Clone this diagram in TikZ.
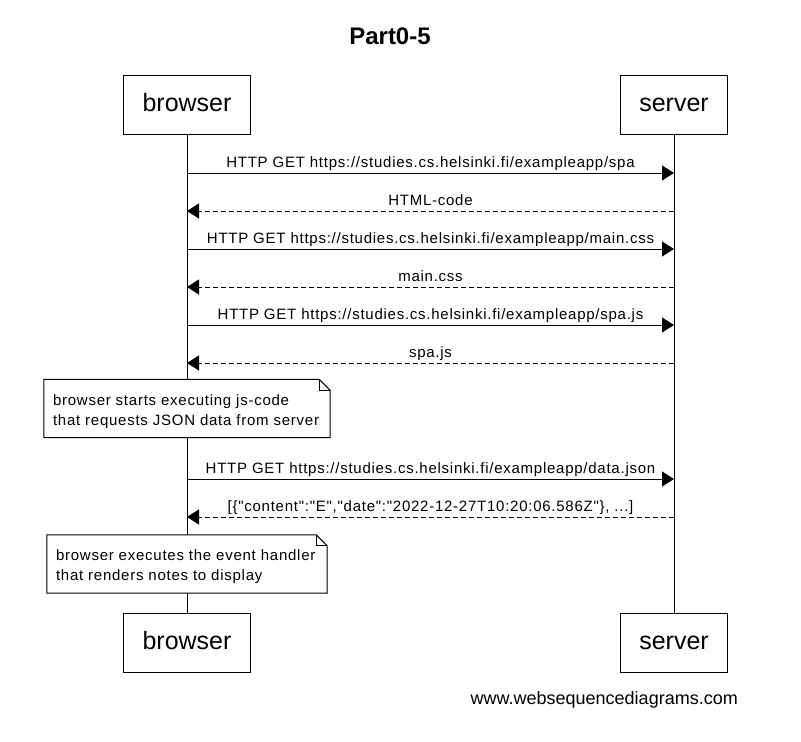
\documentclass[tikz,border=0pt]{standalone}
\usepackage{fontspec}
\setmainfont{Liberation Sans}
\newfontfamily\lblfont[LetterSpace=5]{Liberation Sans}
\usetikzlibrary{arrows.meta}
\begin{document}
\begin{tikzpicture}[x=1pt,y=-1pt,
  actorbox/.style={draw, line width=1pt, fill=white, minimum height=59pt, inner xsep=19pt, inner ysep=0pt, text height=18pt, text depth=5pt, font=\fontsize{25}{30}\selectfont},
  lifeline/.style={line width=1pt},
  reqmsg/.style={line width=1pt, -{Triangle[length=12pt,width=15pt]}},
  resmsg/.style={line width=1pt, dash pattern=on 5pt off 3pt, -{Triangle[length=12pt,width=15pt]}},
  msglbl/.style={font=\lblfont\fontsize{15}{17}\selectfont, inner sep=0pt, anchor=base, yshift=6pt},
  notebox/.style={fill=white, draw=none, inner sep=0pt, minimum height=58pt},
  noteline/.style={line width=1pt, line join=miter},
  notetxt/.style={font=\lblfont\fontsize{15}{17}\selectfont, inner sep=0pt, anchor=base west},
  titletxt/.style={font=\bfseries\fontsize{24}{28}\selectfont, inner sep=0pt, anchor=base},
  foottxt/.style={font=\fontsize{18}{20}\selectfont, inner sep=0pt, anchor=base east}
]
\useasboundingbox (0,0) rectangle (801,742);

\node[titletxt] (title) at (390,44) {Part0-5};

% actors
\node[actorbox] (bt) at (187,104.5) {browser};
\node[actorbox] (st) at (674,104.5) {server};
\node[actorbox] (bb) at (187,642.5) {browser};
\node[actorbox] (sb) at (674,642.5) {server};

% lifelines
\draw[lifeline] (bt.south) -- (bb.north);
\draw[lifeline] (st.south) -- (sb.north);

% message end points
\coordinate (b1) at (187,173); \coordinate (s1) at (674,173);
\coordinate (b2) at (187,211); \coordinate (s2) at (674,211);
\coordinate (b3) at (187,249); \coordinate (s3) at (674,249);
\coordinate (b4) at (187,287); \coordinate (s4) at (674,287);
\coordinate (b5) at (187,325); \coordinate (s5) at (674,325);
\coordinate (b6) at (187,363); \coordinate (s6) at (674,363);
\coordinate (b7) at (187,479); \coordinate (s7) at (674,479);
\coordinate (b8) at (187,517); \coordinate (s8) at (674,517);

\draw[reqmsg] (b1) -- (s1) node[msglbl, midway] {HTTP GET https://studies.cs.helsinki.fi/exampleapp/spa};
\draw[resmsg] (s2) -- (b2) node[msglbl, midway] {HTML-code};
\draw[reqmsg] (b3) -- (s3) node[msglbl, midway] {HTTP GET https://studies.cs.helsinki.fi/exampleapp/main.css};
\draw[resmsg] (s4) -- (b4) node[msglbl, midway] {main.css};
\draw[reqmsg] (b5) -- (s5) node[msglbl, midway] {HTTP GET https://studies.cs.helsinki.fi/exampleapp/spa.js};
\draw[resmsg] (s6) -- (b6) node[msglbl, midway] {spa.js};
\draw[reqmsg] (b7) -- (s7) node[msglbl, midway] {HTTP GET https://studies.cs.helsinki.fi/exampleapp/data.json};
\draw[resmsg] (s8) -- (b8) node[msglbl, midway] {[\{"content":"E","date":"2022-12-27T10:20:06.586Z"\}, ...]};

% note 1
\node[notebox, minimum width=286pt] (n1) at (187,408.5) {};
\draw[noteline] (n1.north west) -- ([xshift=-11pt]n1.north east) -- ([yshift=-11pt]n1.north east) -- (n1.south east) -- (n1.south west) -- cycle;
\draw[noteline] ([xshift=-11pt]n1.north east) |- ([yshift=-11pt]n1.north east);
\node[notetxt] (n1a) at ([xshift=9pt,yshift=-26pt]n1.north west) {browser starts executing js-code};
\node[notetxt] (n1b) at ([xshift=9pt,yshift=-46pt]n1.north west) {that requests JSON data from server};

% note 2
\node[notebox, minimum width=280pt] (n2) at (187,564) {};
\draw[noteline] (n2.north west) -- ([xshift=-11pt]n2.north east) -- ([yshift=-11pt]n2.north east) -- (n2.south east) -- (n2.south west) -- cycle;
\draw[noteline] ([xshift=-11pt]n2.north east) |- ([yshift=-11pt]n2.north east);
\node[notetxt] (n2a) at ([xshift=9pt,yshift=-26pt]n2.north west) {browser executes the event handler};
\node[notetxt] (n2b) at ([xshift=9pt,yshift=-46pt]n2.north west) {that renders notes to display};

\node[foottxt] (foot) at (738,704) {www.websequencediagrams.com};
\end{tikzpicture}
\end{document}
